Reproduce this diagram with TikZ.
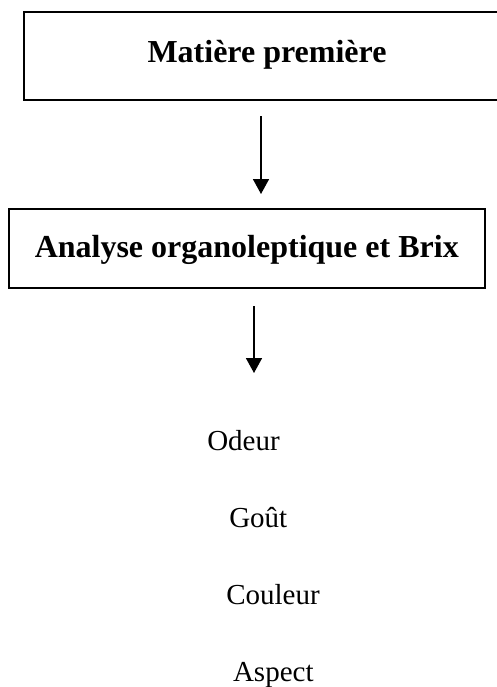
\documentclass[tikz,border=0pt]{standalone}
\usepackage{fontspec}
\setmainfont{Liberation Serif}
\usetikzlibrary{arrows.meta}
\begin{document}
\begin{tikzpicture}[x=0.5pt,y=-0.5pt,
    boite/.style={draw, line width=1pt, inner sep=0pt, anchor=base,
      font=\fontsize{16}{19}\selectfont\bfseries},
    fleche/.style={-{Triangle[length=7.5pt,width=8pt]}, line width=0.8pt},
    mot/.style={anchor=base, inner sep=0pt, font=\fontsize{14.5}{17}\selectfont}]
  \useasboundingbox (0,0) rectangle (497,687);

  % the two boxes
  \node[boite, minimum width=243.5pt, text height=25.25pt, text depth=18.75pt] (mp) at (267,62) {Matière première};
  \node[boite, minimum width=238.25pt, text height=24pt, text depth=15.5pt] (ao) at (246.75,257) {Analyse organoleptique et Brix};

  % the results of the analysis
  \node[mot] (odeur) at (243.5,450) {Odeur};
  \node[mot] (gout) at (258.3,527) {Goût};
  \node[mot] (couleur) at (273,604) {Couleur};
  \node[mot] (aspect) at (273.3,681.5) {Aspect};

  % the arrows between them
  \draw[fleche] ([shift={(-6,15.5)}]mp.south) -- ([shift={(14.25,-14)}]ao.north);
  \draw[fleche] ([shift={(7.25,17)}]ao.south) -- ([shift={(10.5,-77)}]odeur.base);
\end{tikzpicture}
\end{document}
